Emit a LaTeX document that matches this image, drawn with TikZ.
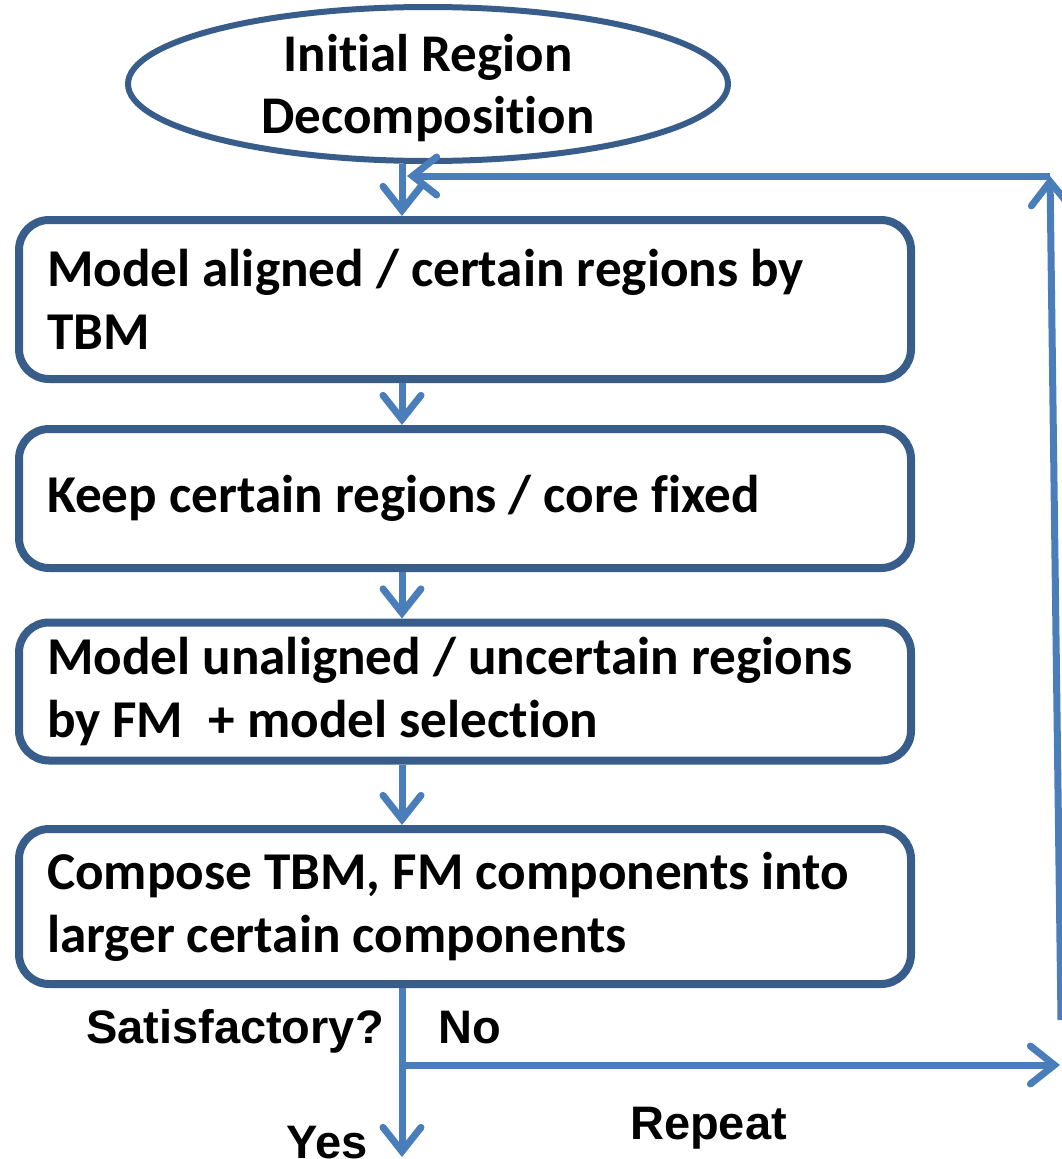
\documentclass[tikz,border=0pt]{standalone}
\usepackage{fontspec}
\setmainfont{Carlito}[Ligatures=NoCommon]
\newfontfamily\arialfont{Liberation Sans}
\usetikzlibrary{shapes.geometric,arrows.meta}
\definecolor{boxblue}{HTML}{385D8A}
\definecolor{arrblue}{HTML}{4A7EBB}
\newcommand{\boxfont}{\fontsize{53.2}{63}\selectfont\bfseries}
\newcommand{\ellfont}{\fontsize{53}{62}\selectfont\bfseries}
\tikzset{
  x=1pt,y=-1pt,
  stepbox/.style={draw=boxblue, line width=8pt, rounded corners=30pt, fill=white,
    minimum width=892pt, text width=836pt, inner xsep=28pt, align=flush left,
    font=\boxfont},
  startell/.style={draw=boxblue, line width=6pt, ellipse, fill=white, inner sep=0pt,
    minimum width=600pt, minimum height=154pt},
  elltext/.style={font=\ellfont, align=flush center, inner sep=0pt},
  arr/.style={draw=arrblue, line width=7pt,
    -{Straight Barb[length=24pt,width=38pt,line cap=round]}},
  lbl/.style={font=\arialfont\fontsize{47}{56}\selectfont\bfseries, inner sep=0pt}
}
\begin{document}
\begin{tikzpicture}
\useasboundingbox (0,0) rectangle (1062,1159);
\node[startell] (ell) at (428,84) {};
\node[elltext] (ellt) at (428,88) {Initial Region\\Decomposition};
\node[stepbox, minimum height=159pt] (b1) at (465,299.5) {Model aligned / certain regions by TBM};
\node[stepbox, minimum height=139pt] (b2) at (465,498.5) {Keep certain regions / core fixed};
\node[stepbox, minimum height=138pt] (b3) at (465,691.5) {Model unaligned / uncertain regions by FM\hspace{0.25em} + model selection};
\node[stepbox, minimum height=155pt] (b4) at (465,906.5) {Compose TBM, FM components into larger certain components};

\coordinate (split) at (402,1065);
\coordinate (yesend) at (402,1157);
\coordinate (noend) at (1060,1065);
\coordinate (rbot) at (1061,1020);
\coordinate (rtop) at (1050,176);
\coordinate (retend) at (407,176);

\draw[arr] (ell.south -| split) -- (b1.north -| split);
\draw[arr] (b1.south -| split) -- (b2.north -| split);
\draw[arr] (b2.south -| split) -- (b3.north -| split);
\draw[arr] (b3.south -| split) -- (b4.north -| split);
\draw[arr] (b4.south -| split) -- (yesend);
\draw[arr, shorten <=-3.5pt] (split) -- (noend);
\draw[arr] (rbot) -- (rtop);
\draw[arr] (rtop) -- (retend);

\node[lbl, anchor=base east] (sat) at (384,1043) {Satisfactory?};
\node[lbl, anchor=base west] (no) at (438,1043) {No};
\node[lbl, anchor=base east] (yes) at (368,1158) {Yes};
\node[lbl, anchor=base west] (rep) at (630,1139) {Repeat};
\end{tikzpicture}
\end{document}
